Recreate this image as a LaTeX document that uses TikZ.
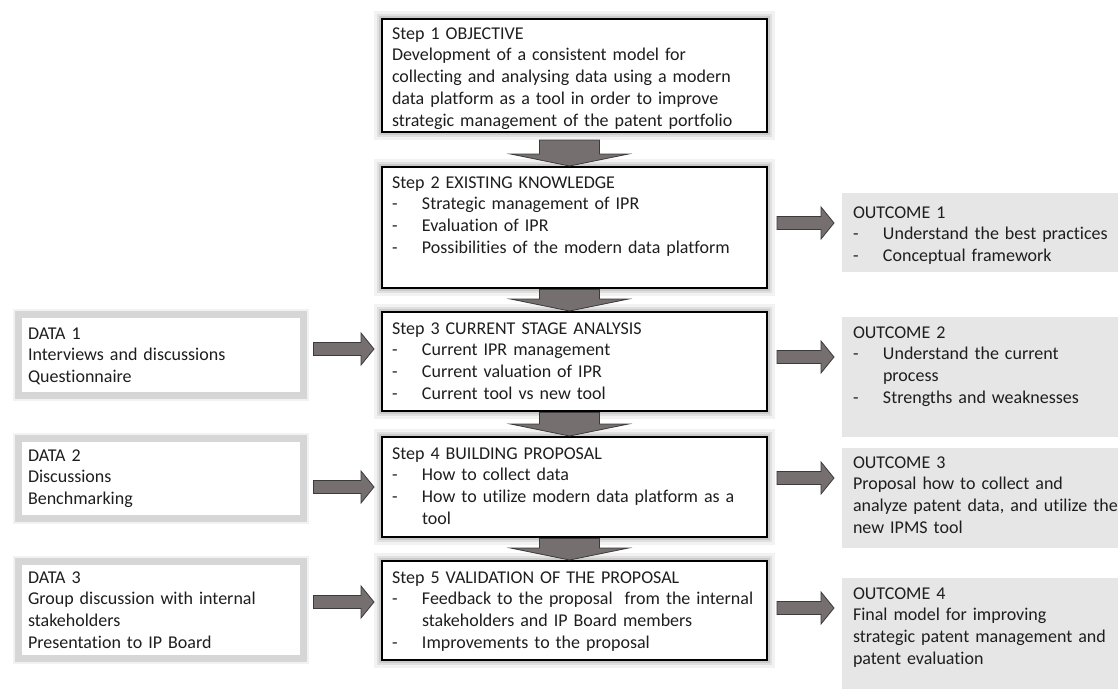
\documentclass[tikz,border=0pt]{standalone}
\usepackage{fontspec}
\setmainfont{Carlito}[Ligatures={NoCommon,NoContextual}]
\usetikzlibrary{calc}
\definecolor{arrowfill}{RGB}{117,111,111}
\definecolor{arrowline}{RGB}{60,58,58}
\definecolor{outfill}{RGB}{230,230,230}
\definecolor{databorder}{RGB}{214,214,214}
\definecolor{textcol}{RGB}{30,30,30}

% horizontal block arrow from node #1 to node #2 along row #3
\newcommand\hblock[3]{%
  \path let \p1=($(#1.east |- 0,#3)+(10,0)$), \p2=($(#2.west |- 0,#3)+(-8,0)$) in
    [blockarrow] (\x1,\y1+6.5pt) -- (\x2-13pt,\y1+6.5pt) -- (\x2-13pt,\y1+16pt)
    -- (\x2,\y1) -- (\x2-13pt,\y1-16pt) -- (\x2-13pt,\y1-6.5pt) -- (\x1,\y1-6.5pt) -- cycle;}
% vertical block arrow from node #1 down to node #2, shaft starting #3 below #1
\newcommand\vblock[3]{%
  \path let \p1=($(#1.south)+(-5,#3)$), \p2=($(#2.north)+(-5,-1)$) in
    [blockarrow] (\x1-30pt,\y1) -- (\x1+30pt,\y1) -- (\x1+30pt,\y2+12pt)
    -- (\x1+59pt,\y2+12pt) -- (\x1,\y2) -- (\x1-59pt,\y2+12pt) -- (\x1-30pt,\y2+12pt) -- cycle;}
\newcommand\bul{\makebox[30pt][l]{-}}
\newcommand\ind{\hspace*{30pt}}

\begin{document}
\begin{tikzpicture}[x=1pt,y=-1pt,
  every node/.style={inner sep=0pt, outer sep=0pt},
  stepbox/.style={draw=black, line width=2.4pt, fill=white, anchor=north west,
    preaction={draw=black, opacity=0.05, line width=16pt},
    preaction={draw=black, opacity=0.07, line width=10pt},
    preaction={draw=black, opacity=0.09, line width=6pt}},
  databox/.style={draw=databorder, line width=7pt, fill=white, anchor=north west,
    preaction={draw=black, opacity=0.05, line width=11pt}},
  outbox/.style={fill=outfill, anchor=north west},
  label/.style={anchor=base west, align=left, text width=400pt,
    font=\fontsize{18}{21.8}\selectfont, text=textcol},
  blockarrow/.style={fill=arrowfill, draw=arrowline, line width=0.8pt, line join=miter}]

\fill[white] (0,0) rectangle (1120,689);
\useasboundingbox (0,0) rectangle (1120,689);

% main column of steps
\node[stepbox, minimum width=385, minimum height=113] (s1) at (382,19) {};
\node[stepbox, minimum width=385, minimum height=121] (s2) at (382,167) {};
\node[stepbox, minimum width=385, minimum height=99]  (s3) at (382,312) {};
\node[stepbox, minimum width=385, minimum height=100] (s4) at (382,437) {};
\node[stepbox, minimum width=385, minimum height=99]  (s5) at (382,561) {};

% data sources
\node[databox, minimum width=285, minimum height=81] (d1) at (18.5,314.5) {};
\node[databox, minimum width=285, minimum height=80] (d2) at (18.5,438.5) {};
\node[databox, minimum width=285, minimum height=97] (d3) at (18.5,561.5) {};

% outcomes
\node[outbox, minimum width=276, minimum height=79]  (o1) at (842,193) {};
\node[outbox, minimum width=276, minimum height=120] (o2) at (842,317) {};
\node[outbox, minimum width=276, minimum height=100] (o3) at (842,448) {};
\node[outbox, minimum width=276, minimum height=111] (o4) at (842,578) {};

% texts
\node[label] (s1t) at (392,39) {Step 1 OBJECTIVE\\Development of a consistent model for\\collecting and analysing data using a modern\\data platform as a tool in order to improve\\strategic management of the patent portfolio};
\node[label] (s2t) at (392,188) {Step 2 EXISTING KNOWLEDGE\\\bul Strategic management of IPR\\\bul Evaluation of IPR\\\bul Possibilities of the modern data platform};
\node[label] (s3t) at (392,334) {Step 3 CURRENT STAGE ANALYSIS\\\bul Current IPR management\\\bul Current valuation of IPR\\\bul Current tool vs new tool};
\node[label] (s4t) at (392,459) {Step 4 BUILDING PROPOSAL\\\bul How to collect data\\\bul How to utilize modern data platform as a\\\ind tool};
\node[label] (s5t) at (392,583) {Step 5 VALIDATION OF THE PROPOSAL\\\bul Feedback to the proposal~ from the internal\\\ind stakeholders and IP Board members\\\bul Improvements to the proposal};

\node[label] (d1t) at (28,339) {DATA 1\\Interviews and discussions\\Questionnaire};
\node[label] (d2t) at (28,461) {DATA 2\\Discussions\\Benchmarking};
\node[label] (d3t) at (28,583) {DATA 3\\Group discussion with internal\\stakeholders\\Presentation to IP Board};

\node[label] (o1t) at (853,218) {OUTCOME 1\\\bul Understand the best practices\\\bul Conceptual framework};
\node[label] (o2t) at (853,338) {OUTCOME 2\\\bul Understand the current\\\ind process\\\bul Strengths and weaknesses};
\node[label] (o3t) at (853,468) {OUTCOME 3\\Proposal how to collect and\\analyze patent data, and utilize the\\new IPMS tool};
\node[label] (o4t) at (853,599) {OUTCOME 4\\Final model for improving\\strategic patent management and\\patent evaluation};

% arrows between steps
\vblock{s1}{s2}{8}
\vblock{s2}{s3}{1.5}
\vblock{s3}{s4}{1.5}
\vblock{s4}{s5}{1.5}

% data into steps
\hblock{d1}{s3}{349}
\hblock{d2}{s4}{487}
\hblock{d3}{s5}{602}

% steps to outcomes
\hblock{s2}{o1}{223}
\hblock{s3}{o2}{357}
\hblock{s4}{o3}{478}
\hblock{s5}{o4}{608}
\end{tikzpicture}
\end{document}
